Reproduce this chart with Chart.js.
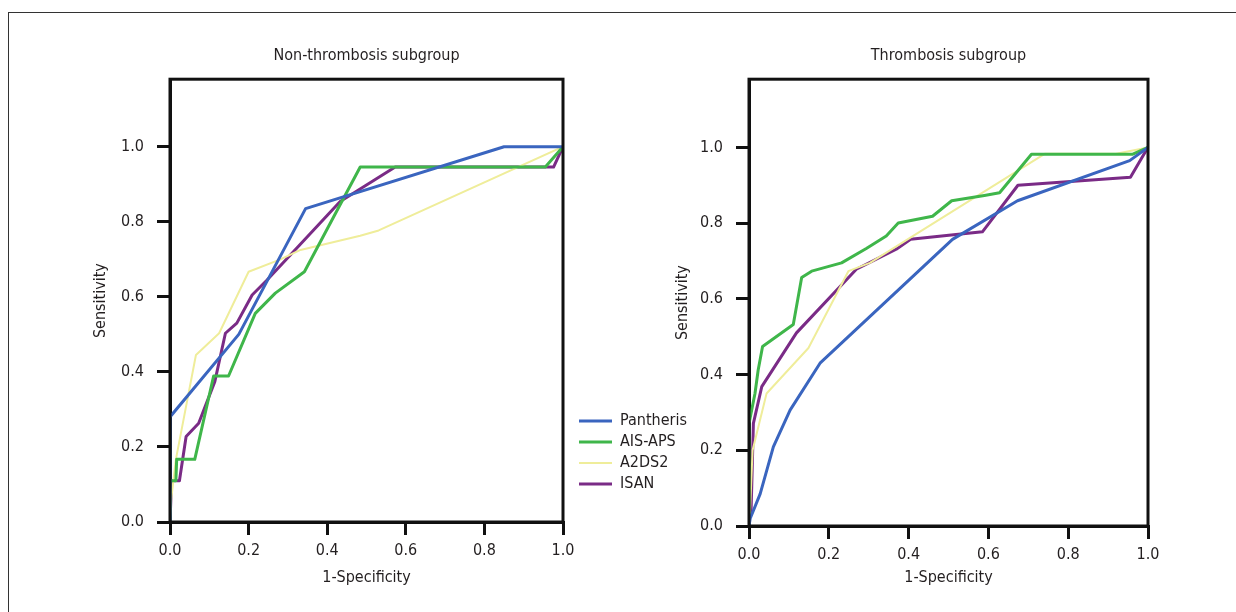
<!DOCTYPE html>
<html>
<head>
<meta charset="utf-8">
<script src="https://cdn.jsdelivr.net/npm/chart.js@4.4.1/dist/chart.umd.min.js"></script>
<style>
    body { margin: 0; background: #fff; width: 1236px; height: 612px; overflow: hidden; position: relative; }
    #frame { position: absolute; left: 8px; top: 12px; width: 1240px; height: 620px; border-left: 1.5px solid #333; border-top: 1.5px solid #333; }
    #non-thrombosis-chart { position: absolute; left: 0; top: 0; }
    #thrombosis-chart { position: absolute; left: 600px; top: 0; }
</style>
</head>
<body>
<div id="frame"></div>
<canvas id="non-thrombosis-chart" width="700" height="612"></canvas>
<canvas id="thrombosis-chart" width="636" height="612"></canvas>
<script>
// Non-thrombosis subgroup (1-specificity, sensitivity)
const ntPantherisX = [0, 0, 0.175, 0.345, 0.85, 1]
const ntPantherisY = [0, 0.28, 0.5, 0.835, 1, 1]
const ntAisApsX = [0, 0, 0.015, 0.017, 0.063, 0.111, 0.149, 0.217, 0.268, 0.342, 0.484, 0.955, 1]
const ntAisApsY = [0, 0.11, 0.11, 0.167, 0.167, 0.389, 0.389, 0.556, 0.61, 0.667, 0.946, 0.946, 1]
const ntA2ds2X = [0, 0.003, 0.015, 0.066, 0.125, 0.2, 0.281, 0.332, 0.484, 0.531, 1]
const ntA2ds2Y = [0, 0.06, 0.167, 0.445, 0.503, 0.667, 0.7, 0.725, 0.763, 0.777, 1]
const ntIsanX = [0, 0.004, 0.024, 0.041, 0.073, 0.114, 0.141, 0.17, 0.209, 0.247, 0.433, 0.573, 0.976, 1]
const ntIsanY = [0, 0.11, 0.11, 0.228, 0.263, 0.374, 0.503, 0.53, 0.605, 0.645, 0.854, 0.946, 0.946, 1]

// Thrombosis subgroup
const tPantherisX = [0, 0.003, 0.028, 0.061, 0.103, 0.178, 0.51, 0.673, 0.954, 1]
const tPantherisY = [0, 0.02, 0.085, 0.209, 0.306, 0.43, 0.757, 0.859, 0.965, 1]
const tAisApsX = [0, 0, 0.015, 0.023, 0.034, 0.111, 0.132, 0.157, 0.232, 0.294, 0.344, 0.374, 0.46, 0.508, 0.59, 0.628, 0.708, 0.962, 1]
const tAisApsY = [0, 0.271, 0.35, 0.412, 0.474, 0.532, 0.656, 0.673, 0.695, 0.733, 0.766, 0.8, 0.818, 0.859, 0.873, 0.88, 0.982, 0.982, 1]
const tA2ds2X = [0, 0.003, 0.009, 0.044, 0.149, 0.249, 0.303, 0.741, 0.92, 1]
const tA2ds2Y = [0, 0.05, 0.2, 0.35, 0.47, 0.673, 0.695, 0.983, 0.983, 1]
const tIsanX = [0.005, 0.011, 0.032, 0.119, 0.269, 0.369, 0.405, 0.585, 0.674, 0.956, 1]
const tIsanY = [0.03, 0.271, 0.368, 0.51, 0.678, 0.731, 0.757, 0.777, 0.9, 0.921, 1]

const seriesNames = ['Pantheris', 'AIS-APS', 'A2DS2', 'ISAN']
const xTicks = [0, 0.2, 0.4, 0.6, 0.8, 1.0]
const yTicks = [0, 0.2, 0.4, 0.6, 0.8, 1.0]

const FONT = "'Liberation Sans Narrow', 'DejaVu Sans Condensed', sans-serif"
Chart.defaults.font.family = FONT
Chart.defaults.font.size = 16
Chart.defaults.color = '#231f20'

function getColor(name){
    if(name === 'Pantheris'){
        return '#3a65bf'
    }
    if(name === 'AIS-APS'){
        return '#3fb64a'
    }
    if(name === 'A2DS2'){
        return '#efed9a'
    }
    if(name === 'ISAN'){
        return '#7a2b86'
    }
}

function makeSet(name, xs, ys){
    return {
        label: name,
        data: xs.map((x, i) => ({ x: x, y: ys[i] })),
        borderColor: getColor(name),
        backgroundColor: getColor(name),
        borderWidth: name === 'A2DS2' ? 2 : 3,
        pointRadius: 0,
        tension: 0,
        borderJoinStyle: 'round'
    }
}

// black box around the plot area
const boxFrame = {
    id: 'boxFrame',
    afterDatasetsDraw(chart){
        const { ctx, chartArea } = chart
        ctx.save()
        ctx.strokeStyle = '#111'
        ctx.lineWidth = 3
        ctx.strokeRect(chartArea.left, chartArea.top, chartArea.right - chartArea.left, chartArea.bottom - chartArea.top)
        ctx.restore()
    }
}

// move the legend out to the gap between the two plots
const legendSpot = {
    id: 'legendSpot',
    afterLayout(chart){
        const lg = chart.legend
        if(!lg || !lg.options.display) return
        lg.left = 574
        lg.top = 408
        lg.right = lg.left + 130
        lg.bottom = lg.top + 100
        lg.width = 130
        lg.height = 100
    }
}

function makeOptions(title, pad, yWidth, xHeight, showLegend){
    return {
        responsive: false,
        devicePixelRatio: 1,
        animation: false,
        layout: { padding: pad },
        plugins: {
            title: {
                display: true,
                text: title,
                fullSize: false,
                font: { size: 16, weight: 'normal' },
                padding: { top: 46, bottom: 14 }
            },
            legend: {
                display: showLegend,
                position: 'chartArea',
                align: 'start',
                labels: {
                    usePointStyle: true,
                    pointStyle: 'line',
                    pointStyleWidth: 33,
                    padding: 5,
                    font: { size: 16 },
                    color: '#231f20'
                }
            },
            tooltip: { enabled: false }
        },
        scales: {
            x: {
                type: 'linear',
                min: 0,
                max: 1,
                afterFit: scale => { scale.height = xHeight },
                afterBuildTicks: scale => { scale.ticks = xTicks.map(v => ({ value: v })) },
                ticks: { padding: 6, callback: v => v.toFixed(1) },
                grid: { drawOnChartArea: false, drawTicks: true, tickLength: 13, color: '#111', lineWidth: 3 },
                border: { color: '#111', width: 3 },
                title: { display: true, text: '1-Specificity', font: { size: 16 }, padding: { top: 4, bottom: 5 } }
            },
            y: {
                type: 'linear',
                min: 0,
                max: 1.18,
                afterFit: scale => { scale.width = yWidth },
                afterBuildTicks: scale => { scale.ticks = yTicks.map(v => ({ value: v })) },
                ticks: { padding: 13, callback: v => v.toFixed(1) },
                grid: { drawOnChartArea: false, drawTicks: true, tickLength: 13, color: '#111', lineWidth: 3 },
                border: { color: '#111', width: 3 },
                title: { display: true, text: 'Sensitivity', font: { size: 16 }, padding: { top: 5, bottom: 4 } }
            }
        }
    }
}

function main(){
    const leftCanvas = document.querySelector('#non-thrombosis-chart')
    const rightCanvas = document.querySelector('#thrombosis-chart')

    new Chart(leftCanvas.getContext('2d'), {
        type: 'line',
        data: {
            datasets: [
                makeSet(seriesNames[0], ntPantherisX, ntPantherisY),
                makeSet(seriesNames[1], ntAisApsX, ntAisApsY),
                makeSet(seriesNames[2], ntA2ds2X, ntA2ds2Y),
                makeSet(seriesNames[3], ntIsanX, ntIsanY)
            ]
        },
        options: makeOptions('Non-thrombosis subgroup', { left: 86, right: 137, top: 0, bottom: 20 }, 84, 70, true),
        plugins: [boxFrame, legendSpot]
    })

    new Chart(rightCanvas.getContext('2d'), {
        type: 'line',
        data: {
            datasets: [
                makeSet(seriesNames[0], tPantherisX, tPantherisY),
                makeSet(seriesNames[1], tAisApsX, tAisApsY),
                makeSet(seriesNames[2], tA2ds2X, tA2ds2Y),
                makeSet(seriesNames[3], tIsanX, tIsanY)
            ]
        },
        options: makeOptions('Thrombosis subgroup', { left: 68, right: 88, top: 0, bottom: 20 }, 81, 66, false),
        plugins: [boxFrame]
    })
}

main()
</script>
</body>
</html>
